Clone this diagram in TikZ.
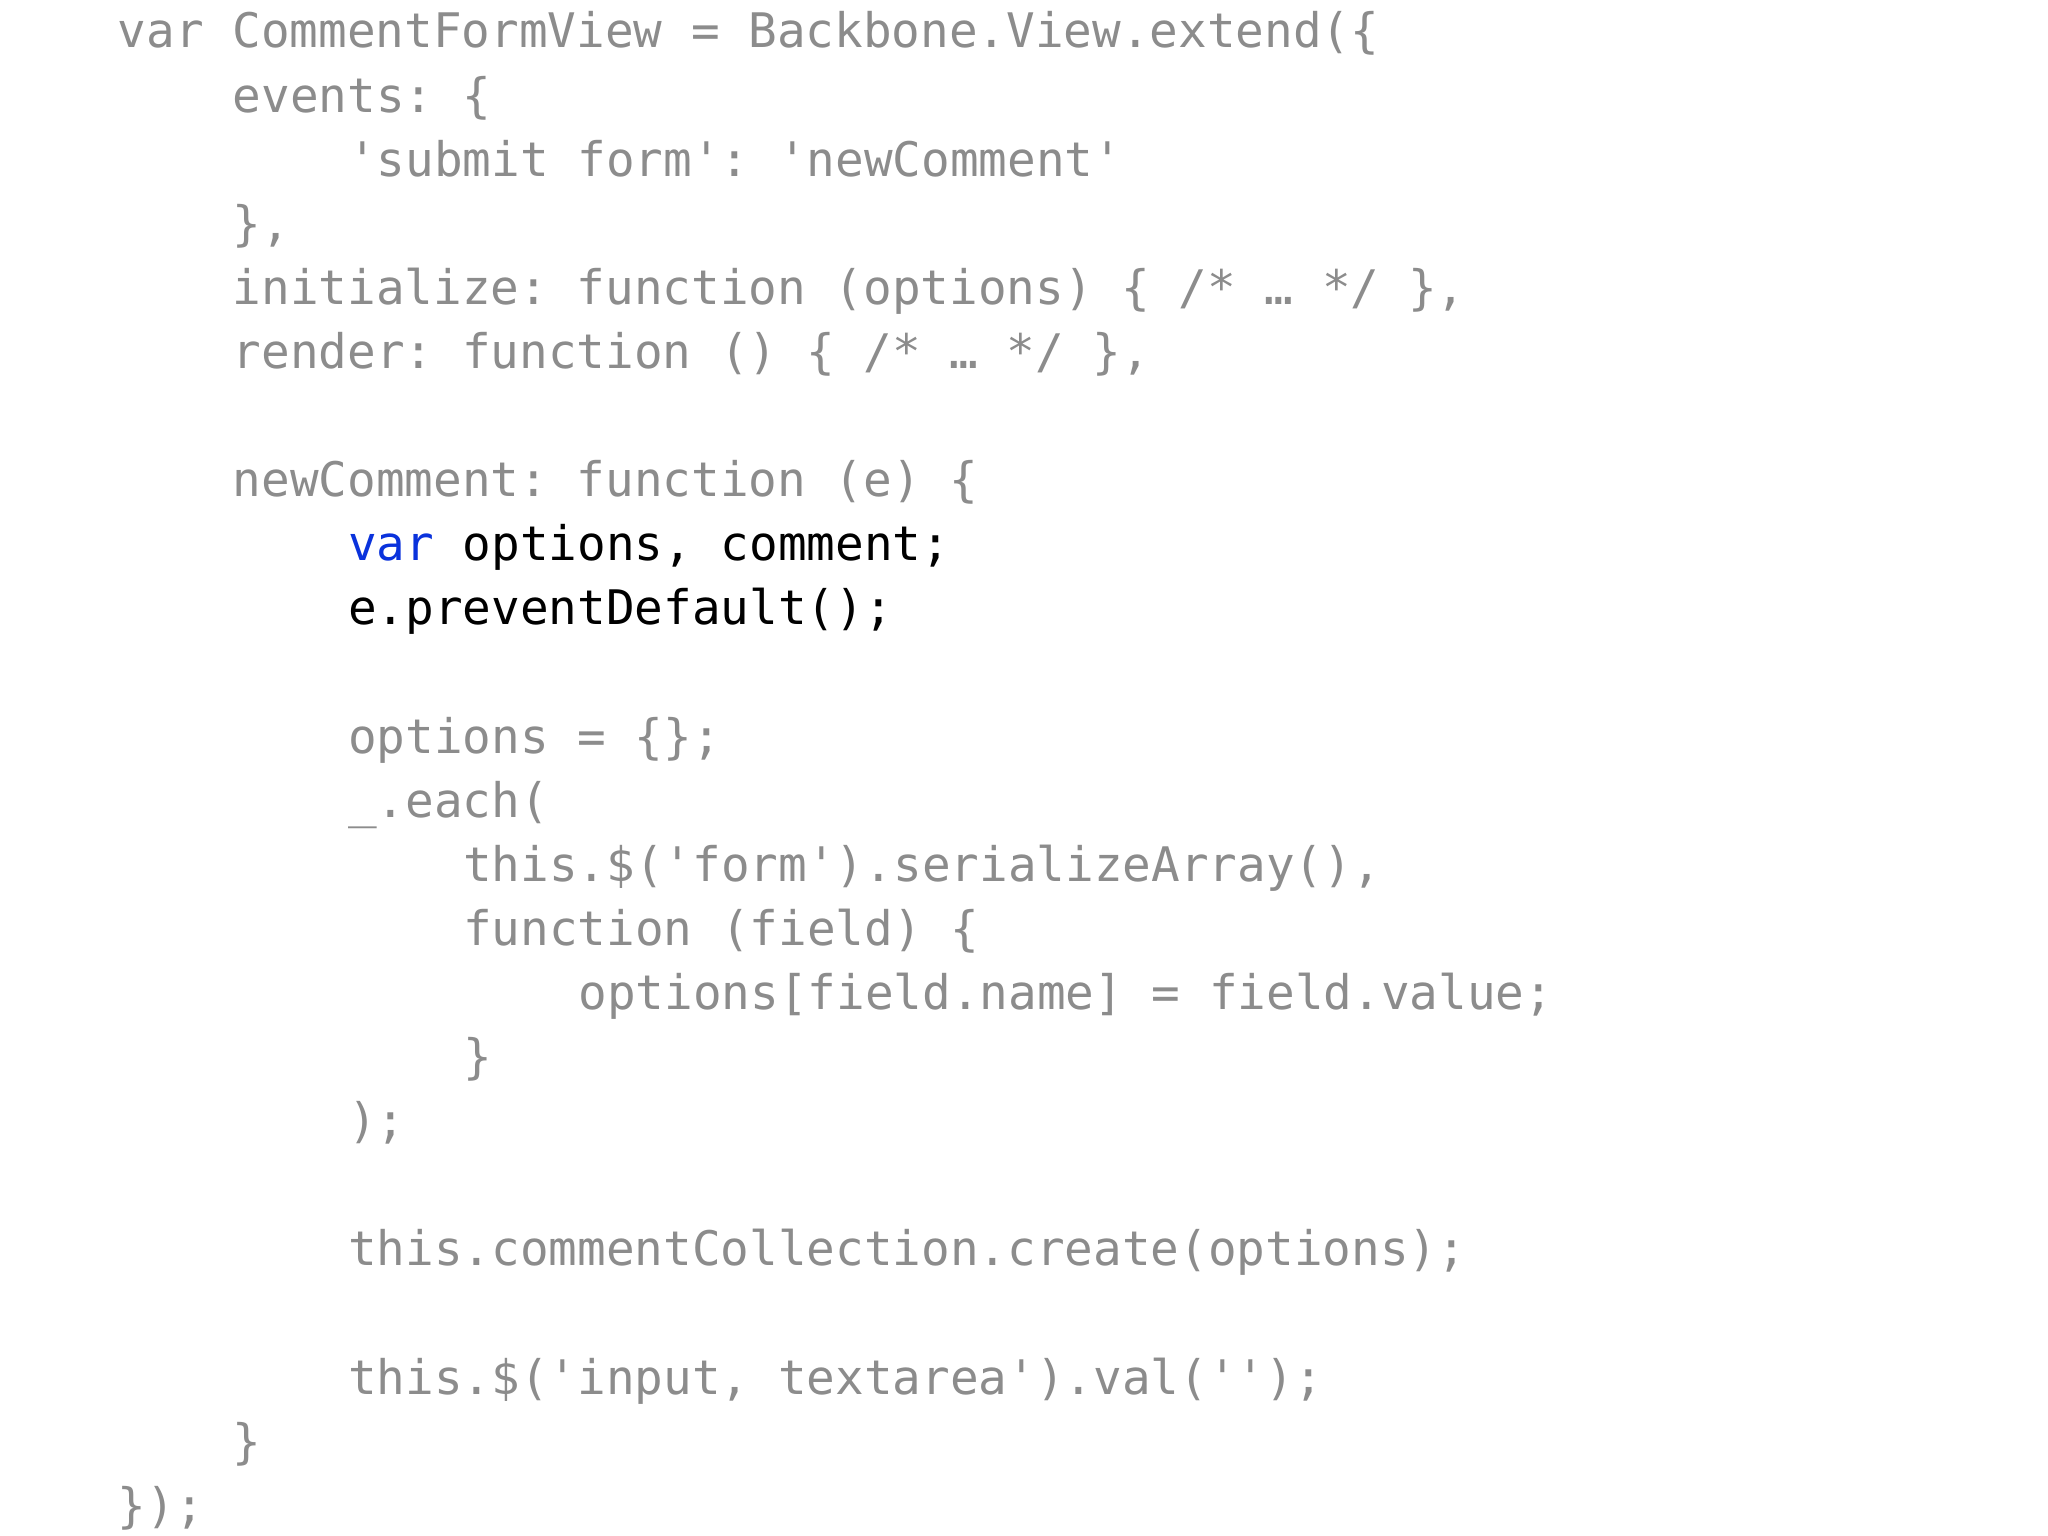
\documentclass[tikz,border=0pt]{standalone}
\usepackage{fontspec}
\setmonofont{DejaVu Sans Mono}
\definecolor{cg}{RGB}{140,140,140}
\definecolor{kw}{RGB}{10,50,220}
\tikzset{cl/.style={anchor=base west,inner sep=0pt,font=\ttfamily\fontsize{13.55pt}{16pt}\selectfont,text=cg}}
\begin{document}
\begin{tikzpicture}[x=1cm,y=-1cm]
\fill[white] (0,0) rectangle (20.48,15.36);
\def\L#1{0.48+0.641*#1}
\def\I#1{1.17+1.152*#1}
\node[cl] (l0) at ({\I0},{\L0}) {var CommentFormView = Backbone.View.extend(\{};
\node[cl] (l1) at ({\I1},{\L1}) {events: \{};
\node[cl] (l2) at ({\I2},{\L2}) {'submit form': 'newComment'};
\node[cl] (l3) at ({\I1},{\L3}) {\},};
\node[cl] (l4) at ({\I1},{\L4}) {initialize: function (options) \{ /* … */ \},};
\node[cl] (l5) at ({\I1},{\L5}) {render: function () \{ /* … */ \},};
\node[cl] (l7) at ({\I1},{\L7}) {newComment: function (e) \{};
\node[cl,text=black] (l8) at ({\I2},{\L8}) {\textcolor{kw}{var} options, comment;};
\node[cl,text=black] (l9) at ({\I2},{\L9}) {e.preventDefault();};
\node[cl] (l11) at ({\I2},{\L{11}}) {options = \{\};};
\node[cl] (l12) at ({\I2},{\L{12}}) {\_.each(};
\node[cl] (l13) at ({\I3},{\L{13}}) {this.\$('form').serializeArray(),};
\node[cl] (l14) at ({\I3},{\L{14}}) {function (field) \{};
\node[cl] (l15) at ({\I4},{\L{15}}) {options[field.name] = field.value;};
\node[cl] (l16) at ({\I3},{\L{16}}) {\}};
\node[cl] (l17) at ({\I2},{\L{17}}) {);};
\node[cl] (l19) at ({\I2},{\L{19}}) {this.commentCollection.create(options);};
\node[cl] (l21) at ({\I2},{\L{21}}) {this.\$('input, textarea').val('');};
\node[cl] (l22) at ({\I1},{\L{22}}) {\}};
\node[cl] (l23) at ({\I0},{\L{23}}) {\});};
\end{tikzpicture}
\end{document}
